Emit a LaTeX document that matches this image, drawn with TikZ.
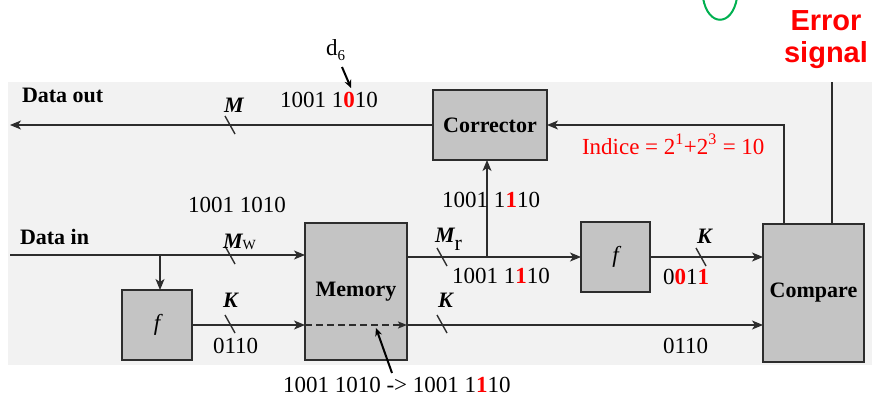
\documentclass[tikz,border=0pt]{standalone}
\usepackage{fontspec}
\setmainfont{Liberation Serif}
\newfontfamily\sansb{Liberation Sans}
\usetikzlibrary{arrows.meta}
\definecolor{bg}{RGB}{242,242,242}
\definecolor{boxfill}{RGB}{196,196,196}
\definecolor{ink}{RGB}{45,45,45}
\definecolor{errred}{RGB}{255,0,0}
\definecolor{circgreen}{RGB}{0,176,80}
\newcommand\rd[1]{\textcolor{errred}{\textbf{#1}}}
\begin{document}
\begin{tikzpicture}[x=1pt,y=-1pt,
  every node/.style={inner sep=0pt, outer sep=0pt, font=\fontsize{23}{25}\selectfont},
  blk/.style={draw=ink, fill=boxfill, line width=1.5pt, font=\fontsize{22}{24}\selectfont\bfseries},
  wire/.style={draw=ink, line width=1.5pt},
  arr/.style={wire, -{Stealth[length=11pt,width=9pt,inset=3pt]}},
  tick/.style={draw=ink, line width=1.4pt},
  lbl/.style={anchor=base west},
  bus/.style={anchor=base west, font=\fontsize{22}{24}\selectfont\bfseries\itshape},
  errtxt/.style={anchor=base, text=errred, font=\fontsize{29}{31}\selectfont\sansb\bfseries},
]
\useasboundingbox (0,0) rectangle (875,396);
% scanned background
\fill[bg] (8,82) rectangle (872,365);

% green arc
\draw[circgreen, line width=2pt] (703,-2) .. controls (708,27) and (732,27) .. (737,-2);

% Error signal
\node[errtxt] (err1) at (826,31) {Error};
\node[errtxt] (err2) at (826,63) {signal};

% blocks
\node[blk, minimum width=114pt, minimum height=70pt] (corr) at (490,125) {Corrector};
\node[blk, minimum width=102pt, minimum height=137pt] (mem) at (356,291.5) {Memory};
\node[blk, minimum width=70pt, minimum height=70pt, font=\fontsize{23}{25}\selectfont\itshape] (fl) at (157,325) {f};
\node[blk, minimum width=69pt, minimum height=70pt, font=\fontsize{23}{25}\selectfont\itshape] (fr) at (615.5,257) {f};
\node[blk, minimum width=101pt, minimum height=138pt] (cmp) at (813.5,293) {Compare};

% coordinates
\coordinate (dout) at (10,125);
\coordinate (din) at (10,255);
\coordinate (br1) at (160,255);
\coordinate (br2) at (487,257);
\coordinate (c1) at (784,224);
\coordinate (c2) at (832,224);
\coordinate (errtop) at (832,82);

% connectors
\draw[arr] (corr.west) -- (dout);
\draw[arr] (din) -- (mem.west |- din);
\draw[arr] (br1) -- (br1 |- fl.north);
\draw[arr] (fl.east) -- (mem.west |- fl.east);
\draw[arr] (mem.east |- fl.east) -- (cmp.west |- fl.east);
\draw[arr] (mem.east |- fr.west) -- (fr.west);
\draw[arr] (br2) -- (br2 |- corr.south);
\draw[arr] (fr.east) -- (cmp.west |- fr.east);
\draw[arr] (c1) |- (corr.east);
\draw[wire] (c2) -- (errtop);
\draw[wire, dashed, dash pattern=on 7pt off 4pt, -{Stealth[length=9pt,width=7pt,inset=2pt]}] (mem.west |- fl.east) -- (mem.east |- fl.east);

% bus ticks
\draw[tick] (230,125) +(-5,-9) -- +(5,9);
\draw[tick] (230,255) +(-5,-9) -- +(5,9);
\draw[tick] (230,324) +(-5,-9) -- +(5,9);
\draw[tick] (442,257) +(-5,-9) -- +(5,9);
\draw[tick] (442,324) +(-5,-9) -- +(5,9);
\draw[tick] (701,257) +(-5,-9) -- +(5,9);

% bus labels
\node[bus] (lm) at (224,112) {M};
\node[bus] (lmw) at (223,248) {M\raisebox{-1pt}{\fontsize{14}{14}\selectfont\mdseries\upshape W}};
\node[bus] (lkl) at (223,307) {K};
\node[bus] (lmr) at (435,242) {M\raisebox{-8pt}{\mdseries\upshape r}};
\node[bus] (lkm) at (438,307) {K};
\node[bus] (lkr) at (697,243) {K};

% texts
\node[lbl, font=\fontsize{22}{24}\selectfont\bfseries] (tdo) at (22,102) {Data out};
\node[lbl, font=\fontsize{22}{24}\selectfont\bfseries] (tdi) at (20,244) {Data in};
\node[lbl] (t1) at (280,107) {1001 1\rd{0}10};
\node[lbl] (td6) at (326,56) {d\raisebox{-5pt}{\fontsize{15}{15}\selectfont 6}};
\node[lbl, text=errred] (tind) at (582,154) {Indice = 2\textsuperscript{1}+2\textsuperscript{3} = 10};
\node[lbl] (t2) at (188,212) {1001 1010};
\node[lbl] (t3) at (442,207) {1001\hspace{6pt}1\rd{1}10};
\node[lbl] (t4) at (452,283) {1001 1\rd{1}10};
\node[lbl] (t5) at (663,284) {0\rd{0}1\rd{1}};
\node[lbl] (t6) at (213,353) {0110};
\node[lbl] (t7) at (663,353) {0110};
\node[lbl] (t8) at (283,392) {1001 1010 -> 1001 1\rd{1}10};

% pointer arrows
\coordinate (d6s) at (342,67);
\coordinate (d6e) at (351,88);
\draw[line width=2pt, -{Stealth[length=8pt,width=7pt]}] (d6s) -- (d6e);
\coordinate (bs) at (392,373);
\coordinate (be) at (376,328);
\draw[line width=2pt, -{Stealth[length=8pt,width=7pt]}] (bs) -- (be);
\end{tikzpicture}
\end{document}
